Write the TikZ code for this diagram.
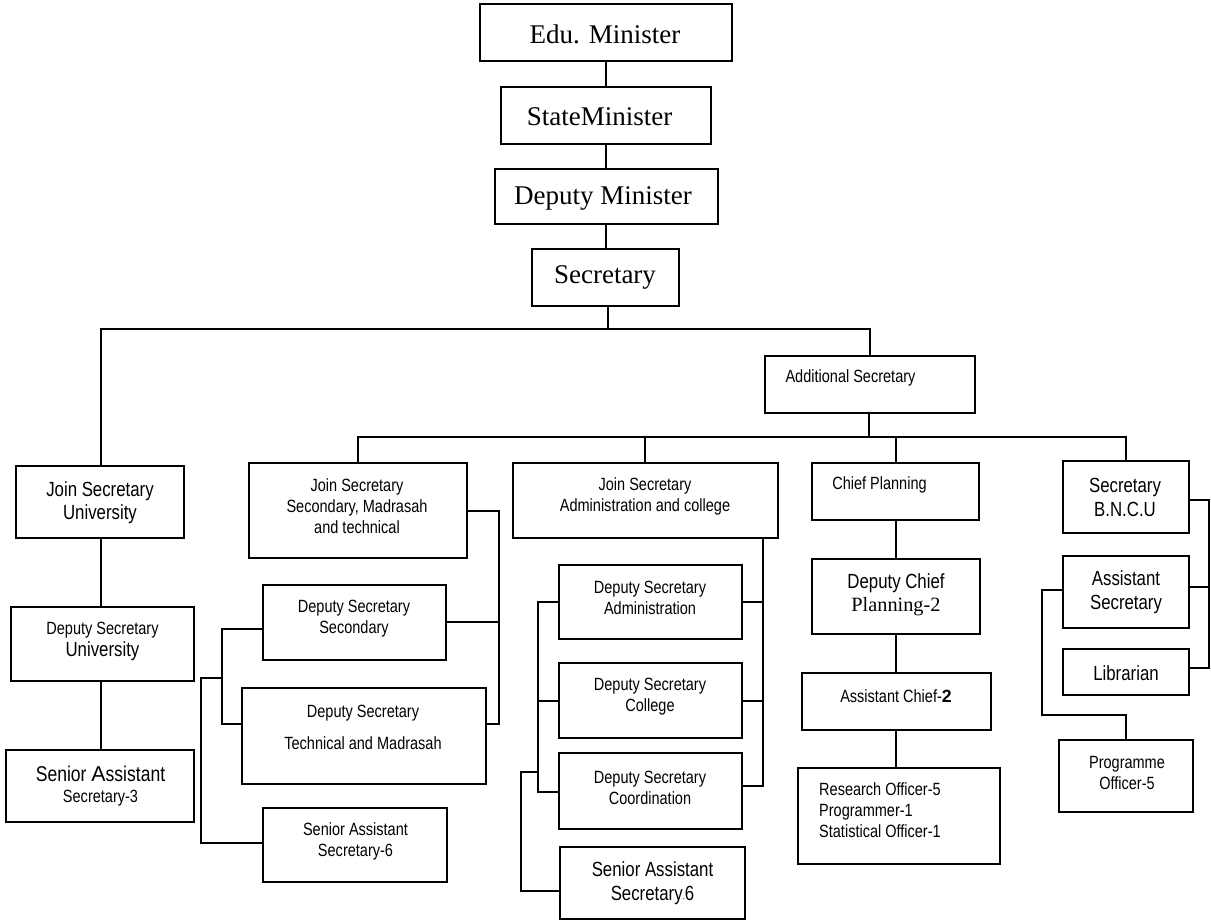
\documentclass[tikz,border=0pt]{standalone}
\usepackage{fontspec}
\setmainfont{Liberation Serif}
\newfontfamily\nar{Liberation Sans}[FakeStretch=0.82]
\newfontfamily\ars{Liberation Sans}
\newcommand\fS{\nar\fontsize{17.7}{21}\selectfont}
\newcommand\fL{\nar\fontsize{20.5}{23}\selectfont}
\newcommand\fT{\rmfamily\fontsize{27}{30}\selectfont}
\begin{document}
\begin{tikzpicture}[x=1pt,y=-1pt,
  box/.style={draw,line width=1.6pt,inner sep=0pt},
  txt/.style={inner sep=0pt,align=center},
  conn/.style={line width=1.6pt}]
\useasboundingbox (0,0) rectangle (1211,923);
% ---------- boxes ----------
\node[box,minimum width=252pt,minimum height=57pt] (edu) at (606,32.5) {};
\node[box,minimum width=210pt,minimum height=57pt] (state) at (606,115.5) {};
\node[box,minimum width=223pt,minimum height=55pt] (dep) at (606.5,196.5) {};
\node[box,minimum width=147pt,minimum height=57pt] (sec) at (605.5,277.5) {};
\node[box,minimum width=210pt,minimum height=57pt] (add) at (870,384.5) {};
\node[box,minimum width=168pt,minimum height=72pt] (jsu) at (100,502) {};
\node[box,minimum width=183pt,minimum height=74pt] (dsu) at (102.5,644) {};
\node[box,minimum width=188pt,minimum height=72pt] (sas3) at (100,786) {};
\node[box,minimum width=218pt,minimum height=95pt] (jss) at (358,510.5) {};
\node[box,minimum width=183pt,minimum height=75pt] (dss) at (354.5,622.5) {};
\node[box,minimum width=244pt,minimum height=96pt] (dst) at (364,736) {};
\node[box,minimum width=184pt,minimum height=74pt] (sasa) at (355,845) {};
\node[box,minimum width=265pt,minimum height=75pt] (jsa) at (645.5,500.5) {};
\node[box,minimum width=183pt,minimum height=74pt] (dsa) at (650.5,602) {};
\node[box,minimum width=183pt,minimum height=75pt] (dsc) at (650.5,700.5) {};
\node[box,minimum width=183pt,minimum height=76pt] (dsco) at (650.5,791) {};
\node[box,minimum width=185pt,minimum height=72pt] (sasb) at (652.5,883) {};
\node[box,minimum width=167pt,minimum height=57pt] (cp) at (895.5,491.5) {};
\node[box,minimum width=168pt,minimum height=75pt] (dcp) at (896,596.5) {};
\node[box,minimum width=189pt,minimum height=57pt] (ac) at (896.5,701.5) {};
\node[box,minimum width=202pt,minimum height=96pt] (ro) at (899,816) {};
\node[box,minimum width=126pt,minimum height=72pt] (bncu) at (1126,497) {};
\node[box,minimum width=126pt,minimum height=72pt] (asec) at (1126,592) {};
\node[box,minimum width=126pt,minimum height=46pt] (lib) at (1126,672) {};
\node[box,minimum width=134pt,minimum height=72pt] (po) at (1126,776) {};
% ---------- texts ----------
\node[txt,font=\fT] (edu-t) at (605,34) {Edu. Minister};
\node[txt,font=\fT] (state-t) at (599.5,117) {StateMinister};
\node[txt,font=\fT] (dep-t) at (603,198) {Deputy Minister};
\node[txt,font=\fT] (sec-t) at (605,277) {Secretary};
\node[txt,font=\fS] (add-t) at (850.5,378) {Additional Secretary};
\node[txt,font=\fL] (jsu-t) at (100,503) {Join Secretary\\University};
\node[txt,font=\fS] (dsu-t) at (102.5,641) {Deputy Secretary\\[1pt]{\fL University}};
\node[txt,font=\fS] (sas3-t) at (100.5,786) {{\fontsize{21.4}{21}\selectfont Senior {\ars A}ssistant}\\Secretary-3};
\node[txt,font=\fS] (jss-t) at (357,506) {Join Secretary\\Secondary, Madrasah\\and technical};
\node[txt,font=\fS] (dss-t) at (354,619) {Deputy Secretary\\Secondary};
\node[txt,font=\fS] (dst-t) at (363,727) {Deputy Secretary\\[11pt]Technical and Madrasah};
\node[txt,font=\fS] (sasa-t) at (355.5,841) {Senior Assistant\\Secretary-6};
\node[txt,font=\fS] (jsa-t) at (645,496) {Join Secretary\\Administration and college};
\node[txt,font=\fS] (dsa-t) at (650,598) {Deputy Secretary\\Administration};
\node[txt,font=\fS] (dsc-t) at (650,697) {Deputy Secretary\\College};
\node[txt,font=\fS] (dsco-t) at (650,788) {Deputy Secretary\\Coordination};
\node[txt,font=\fL] (sasb-t) at (652.5,883) {Senior Assistant\\[1pt]Secretary\raisebox{-1pt}{\fontsize{8}{8}\selectfont -}6};
\node[txt,font=\fS] (cp-t) at (879.5,485) {Chief Planning};
\node[txt,font=\fL] (dcp-t) at (896,595) {Deputy Chief\\{\rmfamily\fontsize{20.3}{23}\selectfont Planning-2}};
\node[txt,font=\fS] (ac-t) at (896,696) {Assistant Chief-{\ars\bfseries 2}};
\node[txt,font=\fS,align=left,anchor=west] (ro-t) at (819,810) {Research Officer-5\\Programmer-1\\Statistical Officer-1};
\node[txt,font=\fL] (bncu-t) at (1125,497) {Secretary\\[1pt]B.N.C.U};
\node[txt,font=\fL] (asec-t) at (1126,592) {Assistant\\[1pt]Secretary};
\node[txt,font=\fL] (lib-t) at (1126,673) {Librarian};
\node[txt,font=\fS] (po-t) at (1127,773) {Programme\\Officer-5};
% ---------- junction coordinates ----------
\coordinate (b1) at (608,329);
\coordinate (b2) at (869,437);
\coordinate (vj) at (645,437);
\coordinate (vc) at (896,437);
\coordinate (R1a) at (499,511);
\coordinate (R1b) at (499,622);
\coordinate (R1c) at (499,724);
\coordinate (L1a) at (222,629);
\coordinate (L1b) at (222,724);
\coordinate (L2a) at (201,678);
\coordinate (L2b) at (201,843);
\coordinate (R2a) at (763,602);
\coordinate (R2b) at (763,701);
\coordinate (R2c) at (763,786);
\coordinate (L3a) at (538,602);
\coordinate (L3b) at (538,701);
\coordinate (L3c) at (538,792);
\coordinate (L4a) at (521,772);
\coordinate (L4b) at (521,891);
\coordinate (R3a) at (1209,500);
\coordinate (R3b) at (1209,587);
\coordinate (R3c) at (1209,668);
\coordinate (L5a) at (1042,590);
\coordinate (L5b) at (1042,715);
% ---------- connectors ----------
\draw[conn] (edu.south) -- (state.north);
\draw[conn] (state.south) -- (dep.north -| state.south);
\draw[conn] (dep.south -| state.south) -- (sec.north -| state.south);
\draw[conn] (sec.south -| b1) -- (b1);
\draw[conn] (jsu.north -| 101,0) -- (101,329) -- (add.north |- b1) -- (add.north);
\draw[conn] (jsu.south -| 101,0) -- (dsu.north -| 101,0);
\draw[conn] (dsu.south -| 101,0) -- (sas3.north -| 101,0);
\draw[conn] (add.south -| b2) -- (b2);
\draw[conn] (jss.north) -- (jss.north |- b2) -- (bncu.north |- b2) -- (bncu.north);
\draw[conn] (jsa.north -| vj) -- (vj);
\draw[conn] (cp.north -| vc) -- (vc);
% secondary / madrasah
\draw[conn] (jss.east |- R1a) -- (R1a) -- (R1c) -- (dst.east |- R1c);
\draw[conn] (dss.east |- R1b) -- (R1b);
\draw[conn] (dss.west |- L1a) -- (L1a) -- (L1b) -- (dst.west |- L1b);
\draw[conn] (L1a |- L2a) -- (L2a) -- (L2b) -- (sasa.west |- L2b);
% administration / college
\draw[conn] (jsa.south -| R2a) -- (R2c) -- (dsco.east |- R2c);
\draw[conn] (dsa.east |- R2a) -- (R2a);
\draw[conn] (dsc.east |- R2b) -- (R2b);
\draw[conn] (dsa.west |- L3a) -- (L3a) -- (L3c) -- (dsco.west |- L3c);
\draw[conn] (L3b) -- (dsc.west |- L3b);
\draw[conn] (L3a |- L4a) -- (L4a) -- (L4b) -- (sasb.west |- L4b);
% planning
\draw[conn] (cp.south -| vc) -- (dcp.north -| vc);
\draw[conn] (dcp.south -| vc) -- (ac.north -| vc);
\draw[conn] (ac.south -| vc) -- (ro.north -| vc);
% BNCU
\draw[conn] (bncu.east |- R3a) -- (R3a) -- (R3c) -- (lib.east |- R3c);
\draw[conn] (asec.east |- R3b) -- (R3b);
\draw[conn] (asec.west |- L5a) -- (L5a) -- (L5b) -- (po.north |- L5b) -- (po.north);
\end{tikzpicture}
\end{document}
